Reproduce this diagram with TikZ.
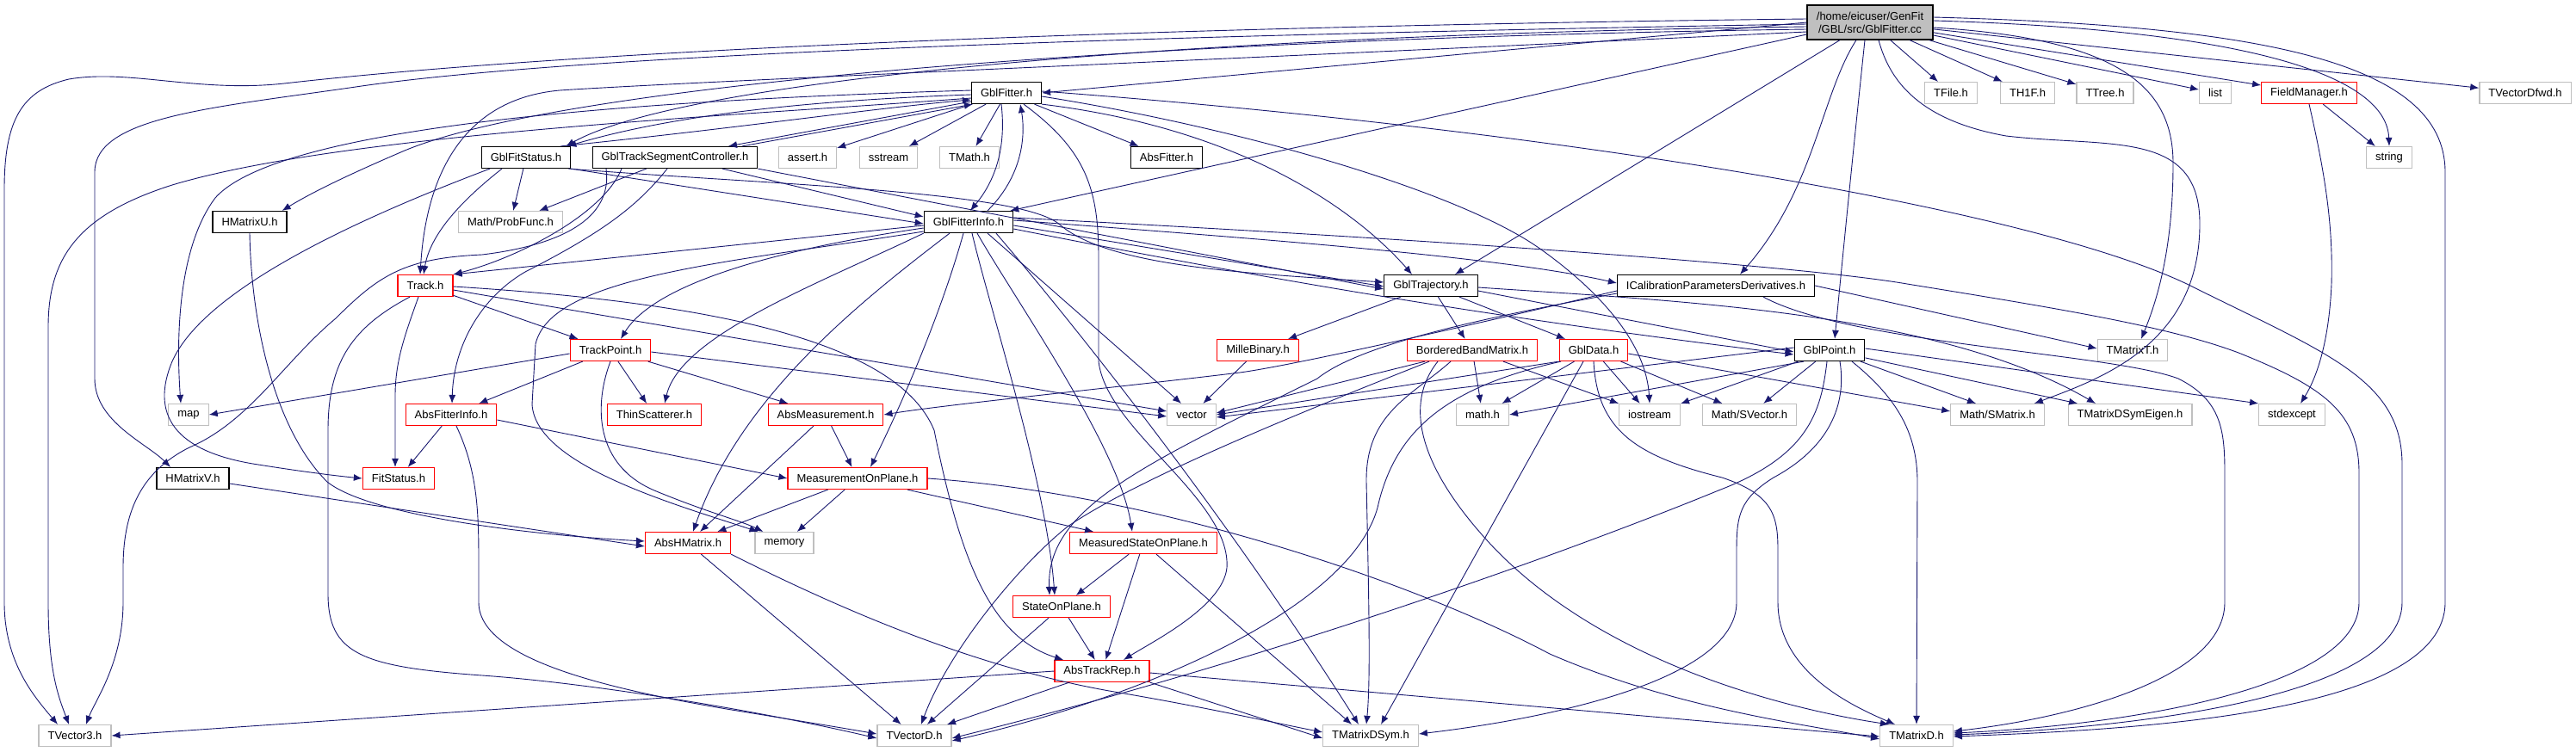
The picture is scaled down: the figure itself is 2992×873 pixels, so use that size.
\documentclass[tikz,border=0pt]{standalone}
\usepackage{fontspec}
\newfontfamily\dotfont{Liberation Sans}
\usetikzlibrary{arrows.meta}
\definecolor{edgeblue}{HTML}{191970}
\definecolor{sysgray}{HTML}{BFBFBF}
\definecolor{cutred}{HTML}{FF0000}

\begin{document}
\begin{tikzpicture}[x=1pt, y=-1pt,
  hdr/.style={draw, rectangle, line width=1.2pt, minimum height=25pt,
    inner xsep=10.5pt, inner ysep=0pt, font=\dotfont\fontsize{13}{15}\selectfont},
  docbox/.style={hdr, draw=black},
  sysbox/.style={hdr, draw=sysgray},
  cutbox/.style={hdr, draw=cutred},
  dep/.style={draw=edgeblue, line width=0.9pt, -{Latex[length=10pt,width=8pt]}}
]
\useasboundingbox (0,0) rectangle (2992,873);
\fill[white] (0,0) rectangle (2992,873);

% nodes, one row per rank
\node[docbox, fill=sysgray, align=center, minimum width=146pt, minimum height=40pt] (root) at (2172,26) {/home/eicuser/GenFit\\/GBL/src/GblFitter.cc};

\node[docbox] (GblFitterH) at (1169,108) {GblFitter.h};
\node[sysbox] (TFile) at (2266,108) {TFile.h};
\node[sysbox] (TH1F) at (2355,108) {TH1F.h};
\node[sysbox] (TTree) at (2445,108) {TTree.h};
\node[sysbox] (list) at (2573,108) {list};
\node[cutbox] (FieldManager) at (2682,108) {FieldManager.h};
\node[sysbox] (TVectorDfwd) at (2933,108) {TVectorDfwd.h};

\node[docbox] (GblFitStatus) at (611,183) {GblFitStatus.h};
\node[docbox] (GblTSC) at (784,183) {GblTrackSegmentController.h};
\node[sysbox] (assert) at (938,183) {assert.h};
\node[sysbox] (sstream) at (1032,183) {sstream};
\node[sysbox] (TMath) at (1126,183) {TMath.h};
\node[docbox] (AbsFitter) at (1355,183) {AbsFitter.h};
\node[sysbox] (string) at (2775,183) {string};

\node[docbox] (HMatrixU) at (290,258) {HMatrixU.h};
\node[sysbox] (ProbFunc) at (593,258) {Math/ProbFunc.h};
\node[docbox] (GblFitterInfo) at (1125,258) {GblFitterInfo.h};

\node[cutbox] (Track) at (494,332) {Track.h};
\node[docbox] (GblTrajectory) at (1662,332) {GblTrajectory.h};
\node[docbox] (ICalib) at (1993,332) {ICalibrationParametersDerivatives.h};

\node[cutbox] (TrackPoint) at (709,407) {TrackPoint.h};
\node[cutbox] (MilleBinary) at (1461,407) {MilleBinary.h};
\node[cutbox] (BBM) at (1710,407) {BorderedBandMatrix.h};
\node[cutbox] (GblData) at (1851,407) {GblData.h};
\node[docbox] (GblPoint) at (2125,407) {GblPoint.h};
\node[sysbox] (TMatrixT) at (2477,407) {TMatrixT.h};

\node[sysbox] (map) at (219,482) {map};
\node[cutbox] (AbsFitterInfo) at (524,482) {AbsFitterInfo.h};
\node[cutbox] (ThinScatterer) at (760,482) {ThinScatterer.h};
\node[cutbox] (AbsMeasurement) at (959,482) {AbsMeasurement.h};
\node[sysbox] (vector) at (1384,482) {vector};
\node[sysbox] (mathh) at (1722,482) {math.h};
\node[sysbox] (iostream) at (1916,482) {iostream};
\node[sysbox] (SVector) at (2032,482) {Math/SVector.h};
\node[sysbox] (SMatrix) at (2320,482) {Math/SMatrix.h};
\node[sysbox] (TMDSEigen) at (2474,482) {TMatrixDSymEigen.h};
\node[sysbox] (stdexcept) at (2662,482) {stdexcept};

\node[docbox] (HMatrixV) at (224,556) {HMatrixV.h};
\node[cutbox] (FitStatus) at (463,556) {FitStatus.h};
\node[cutbox] (MoP) at (996,556) {MeasurementOnPlane.h};

\node[cutbox] (AbsHMatrix) at (799,631) {AbsHMatrix.h};
\node[sysbox] (memory) at (911,631) {memory};
\node[cutbox] (MSoP) at (1328,631) {MeasuredStateOnPlane.h};

\node[cutbox] (SoP) at (1233,705) {StateOnPlane.h};
\node[cutbox] (AbsTrackRep) at (1280,780) {AbsTrackRep.h};

\node[sysbox] (TVector3) at (87,855) {TVector3.h};
\node[sysbox] (TVectorD) at (1062,855) {TVectorD.h};
\node[sysbox] (TMatrixDSym) at (1592,855) {TMatrixDSym.h};
\node[sysbox] (TMatrixD) at (2226,855) {TMatrixD.h};

% includes of GblFitter.cc
\draw[dep] (root.west) -- (GblFitterH.east);
\draw[dep] (root) -- (TFile);
\draw[dep] (root) -- (TH1F);
\draw[dep] (root) -- (TTree);
\draw[dep] (root) -- (list);
\draw[dep] (root) -- (FieldManager);
\draw[dep] (root) -- (TVectorDfwd);
\draw[dep] ([yshift=2pt]root.east) .. controls (2620,35) and (2772,90) .. (string.north);
\draw[dep] ([yshift=-6pt]root.east) .. controls (2460,45) and (2524,100) .. (2524,190) .. controls (2524,290) and (2505,350) .. ([xshift=10pt]TMatrixT.north);
\draw[dep] ([xshift=10pt]root.south) .. controls (2195,95) and (2230,140) .. (2330,158) .. controls (2450,172) and (2555,150) .. (2555,260) .. controls (2555,400) and (2440,440) .. ([xshift=-12pt]SMatrix.north east);
\draw[dep] ([yshift=6pt]root.east) .. controls (2620,30) and (2840,70) .. (2840,200) -- (2840,700) .. controls (2840,830) and (2480,848) .. ([yshift=-1pt]TMatrixD.east);
\draw[dep] ([yshift=4pt]root.west) .. controls (1400,30) and (700,55) .. (330,97) .. controls (230,108) and (150,80) .. (80,92) .. controls (25,105) and (5,140) .. (5,220) -- (5,700) .. controls (5,770) and (40,810) .. ([xshift=-20pt]TVector3.north);
\draw[dep] ([yshift=-2pt]root.west) .. controls (1400,40) and (700,60) .. (420,100) .. controls (250,125) and (110,135) .. (110,200) -- (110,440) .. controls (110,490) and (170,515) .. ([xshift=-26pt]HMatrixV.north);
\draw[dep] ([yshift=-5pt]root.west) .. controls (1400,40) and (800,90) .. ([xshift=-6pt]GblFitStatus.north east);
\draw[dep] ([yshift=-8pt]root.west) .. controls (1300,45) and (650,100) .. (470,175) .. controls (400,205) and (360,225) .. ([xshift=-6pt]HMatrixU.north east);
\draw[dep] ([yshift=-11pt]root.west) .. controls (1400,70) and (800,95) .. (650,105) .. controls (540,115) and (495,200) .. ([xshift=-6pt]Track.north);
\draw[dep] ([yshift=-14pt]root.west) -- ([xshift=-4pt]GblFitterInfo.north east);
\draw[dep] ([xshift=-35pt]root.south) -- ([xshift=28pt]GblTrajectory.north);
\draw[dep] ([xshift=-16pt]root.south) .. controls (2115,110) and (2108,220) .. ([xshift=28pt]ICalib.north);
\draw[dep] ([xshift=-6pt]root.south) .. controls (2155,150) and (2140,300) .. ([xshift=6pt]GblPoint.north);

% GblFitter.h
\draw[dep] ([yshift=-2pt]GblFitterH.west) .. controls (900,118) and (760,140) .. ([xshift=-4pt]GblFitStatus.north east);
\draw[dep] ([xshift=-12pt]GblFitStatus.north east) .. controls (850,150) and (1020,125) .. ([yshift=-8pt]GblFitterH.west);
\draw[dep] ([yshift=-10pt]GblFitterH.west) -- ([xshift=62pt]GblTSC.north);
\draw[dep] ([xshift=78pt]GblTSC.north) -- ([xshift=2pt]GblFitterH.south west);
\draw[dep] (GblFitterH) -- (assert);
\draw[dep] (GblFitterH) -- (sstream);
\draw[dep] (GblFitterH) -- (TMath);
\draw[dep] (GblFitterH) -- (AbsFitter);
\draw[dep] ([xshift=-6pt]GblFitterH.south) .. controls (1168,165) and (1160,205) .. ([xshift=2pt]GblFitterInfo.north);
\draw[dep] ([xshift=22pt]GblFitterInfo.north) .. controls (1192,200) and (1190,150) .. ([xshift=16pt]GblFitterH.south);
\draw[dep] (GblFitterH.south east) .. controls (1450,150) and (1580,250) .. ([xshift=-22pt]GblTrajectory.north);
\draw[dep] ([yshift=-4pt]GblFitterH.east) .. controls (1450,150) and (1700,225) .. (1790,290) .. controls (1860,340) and (1912,400) .. (iostream.north);
\draw[dep] ([yshift=3pt]GblFitterH.west) .. controls (800,115) and (330,140) .. (250,230) .. controls (205,290) and (205,400) .. ([xshift=-9pt]map.north);
\draw[dep] ([yshift=-6pt]GblFitterH.west) .. controls (850,135) and (400,155) .. (200,215) .. controls (90,250) and (56,300) .. (56,380) -- (56,700) .. controls (56,780) and (68,810) .. ([xshift=-7pt]TVector3.north);
\draw[dep] ([yshift=2pt]GblFitterH.east) .. controls (1800,150) and (2350,240) .. (2540,330) .. controls (2700,410) and (2790,440) .. (2790,540) -- (2790,700) .. controls (2790,810) and (2480,846) .. ([yshift=1pt]TMatrixD.east);
\draw[dep] ([xshift=20pt]GblFitterH.south) .. controls (1262,175) and (1276,220) .. (1276,300) -- (1276,420) .. controls (1285,500) and (1430,580) .. (1425,660) .. controls (1420,705) and (1340,745) .. ([xshift=25pt]AbsTrackRep.north);

% GblFitStatus.h
\draw[dep] (GblFitStatus) -- (ProbFunc);
\draw[dep] ([xshift=-28pt]GblFitStatus.south) .. controls (540,230) and (500,270) .. ([xshift=-2pt]Track.north);
\draw[dep] (GblFitStatus.south east) -- ([yshift=-2pt]GblFitterInfo.west);
\draw[dep] ([xshift=-3pt]GblFitStatus.south east) .. controls (900,215) and (1190,222) .. (1232,262) .. controls (1290,310) and (1450,318) .. ([yshift=4pt]GblTrajectory.west);
\draw[dep] ([xshift=-42pt]GblFitStatus.south) .. controls (440,245) and (240,330) .. (200,420) .. controls (175,480) and (200,525) .. (300,540) .. controls (350,548) and (390,553) .. (FitStatus.west);

% GblTrackSegmentController.h
\draw[dep] (GblTSC) -- (ProbFunc);
\draw[dep] ([xshift=55pt]GblTSC.south) -- ([yshift=6pt]GblFitterInfo.west);
\draw[dep] (GblTSC.south east) -- ([yshift=-4pt]GblTrajectory.west);
\draw[dep] ([xshift=-62pt]GblTSC.south) .. controls (700,250) and (600,300) .. (Track.north east);
\draw[dep] ([xshift=-9pt]GblTSC.south) .. controls (740,240) and (700,270) .. (610,316) .. controls (560,345) and (527,400) .. ([xshift=1pt]AbsFitterInfo.north);
\draw[dep] ([xshift=-80pt]GblTSC.south) .. controls (712,255) and (650,285) .. (560,296) .. controls (470,300) and (440,320) .. (390,370) .. controls (330,420) and (290,490) .. (220,520) .. controls (160,550) and (143,600) .. (143,660) -- (143,700) .. controls (143,770) and (110,815) .. ([xshift=13pt]TVector3.north);

% GblFitterInfo.h
\draw[dep] ([yshift=-4pt]GblFitterInfo.west) -- (Track.north east);
\draw[dep] ([yshift=-7pt]GblFitterInfo.west) .. controls (900,290) and (760,330) .. ([xshift=12pt]TrackPoint.north);
\draw[dep] (GblFitterInfo.south west) .. controls (950,330) and (790,390) .. ([xshift=12pt]ThinScatterer.north);
\draw[dep] ([yshift=-11pt]GblFitterInfo.west) .. controls (850,305) and (640,320) .. (622,400) -- (618,470) .. controls (622,540) and (780,585) .. ([xshift=4pt]memory.north west);
\draw[dep] ([xshift=22pt]GblFitterInfo.south) -- ([xshift=-12pt]vector.north);
\draw[dep] ([xshift=-6pt]GblFitterInfo.south) .. controls (1100,340) and (1062,440) .. ([xshift=15pt]MoP.north);
\draw[dep] ([xshift=-22pt]GblFitterInfo.south) .. controls (1000,350) and (860,460) .. ([xshift=6pt]AbsHMatrix.north);
\draw[dep] ([xshift=10pt]GblFitterInfo.south) .. controls (1180,350) and (1300,520) .. ([xshift=-13pt]MSoP.north);
\draw[dep] ([xshift=4pt]GblFitterInfo.south) .. controls (1150,360) and (1215,560) .. ([xshift=-8pt]SoP.north);
\draw[dep] ([xshift=32pt]GblFitterInfo.south) .. controls (1250,380) and (1425,600) .. ([xshift=-14pt]TMatrixDSym.north);
\draw[dep] ([yshift=-4pt]GblFitterInfo.east) -- ([yshift=-1pt]GblTrajectory.west);
\draw[dep] ([yshift=2pt]GblFitterInfo.east) .. controls (1500,280) and (1750,300) .. ([yshift=3pt]ICalib.west);
\draw[dep] ([yshift=-8pt]GblFitterInfo.east) .. controls (1450,320) and (1700,365) .. ([yshift=-5pt]GblPoint.west);
\draw[dep] ([yshift=5pt]GblFitterInfo.east) .. controls (1700,280) and (2100,310) .. (2215,330) .. controls (2400,360) and (2520,380) .. (2600,410) .. controls (2700,450) and (2740,480) .. (2740,550) -- (2740,700) .. controls (2740,800) and (2470,843) .. ([yshift=3pt]TMatrixD.east);

% FieldManager.h
\draw[dep] (FieldManager) -- (string);
\draw[dep] (FieldManager.south) .. controls (2700,200) and (2710,260) .. (2708,330) .. controls (2705,400) and (2690,440) .. ([xshift=10pt]stdexcept.north);

% Track.h and TrackPoint.h
\draw[dep] (Track) -- (TrackPoint);
\draw[dep] ([xshift=-8pt]Track.south) .. controls (470,390) and (459,420) .. (459,460) -- ([xshift=-4pt]FitStatus.north);
\draw[dep] ([yshift=-5pt]Track.east) -- ([yshift=4pt]vector.west);
\draw[dep] ([yshift=-1pt]Track.east) .. controls (800,350) and (1040,390) .. (1085,500) .. controls (1115,650) and (1150,740) .. ([xshift=-45pt]AbsTrackRep.north);
\draw[dep] ([xshift=-18pt]Track.south) .. controls (410,380) and (381,420) .. (381,500) -- (381,690) .. controls (381,760) and (420,775) .. (560,785) .. controls (700,795) and (900,830) .. ([yshift=-3pt]TVectorD.west);
\draw[dep] ([yshift=-4pt]TrackPoint.west) -- (map.east);
\draw[dep] (TrackPoint) -- (AbsFitterInfo);
\draw[dep] (TrackPoint) -- (ThinScatterer);
\draw[dep] (TrackPoint) -- (AbsMeasurement);
\draw[dep] ([yshift=-2pt]TrackPoint.east) -- ([yshift=-2pt]vector.west);
\draw[dep] (TrackPoint.south) .. controls (690,470) and (690,540) .. (760,570) .. controls (820,595) and (860,605) .. ([xshift=10pt]memory.north west);

% AbsFitterInfo.h, AbsMeasurement.h, ICalibrationParametersDerivatives.h
\draw[dep] (AbsFitterInfo) -- (FitStatus);
\draw[dep] ([yshift=-6pt]AbsFitterInfo.east) -- (MoP.west);
\draw[dep] ([xshift=6pt]AbsFitterInfo.south) .. controls (556,550) and (556,600) .. (556,660) -- (556,700) .. controls (556,765) and (700,800) .. (850,825) .. controls (930,838) and (990,848) .. ([yshift=2pt]TVectorD.west);
\draw[dep] (AbsMeasurement) -- (MoP);
\draw[dep] (AbsMeasurement) -- (AbsHMatrix);
\draw[dep] ([yshift=-6pt]ICalib.west) .. controls (1700,380) and (1500,425) .. (1440,433) .. controls (1300,450) and (1100,470) .. (AbsMeasurement.east);
\draw[dep] ([yshift=-9pt]ICalib.west) .. controls (1720,370) and (1580,400) .. (1530,440) .. controls (1330,540) and (1215,590) .. ([xshift=-14pt]SoP.north);
\draw[dep] (ICalib.east) -- ([yshift=2pt]TMatrixT.west);
\draw[dep] ([xshift=55pt]ICalib.south) .. controls (2150,400) and (2450,410) .. (2530,440) .. controls (2580,465) and (2584,500) .. (2584,550) -- (2584,700) .. controls (2584,790) and (2400,835) .. ([yshift=5pt]TMatrixD.east);

% GblTrajectory.h
\draw[dep] (GblTrajectory) -- (MilleBinary);
\draw[dep] (GblTrajectory) -- (BBM);
\draw[dep] (GblTrajectory) -- (GblData);
\draw[dep] ([yshift=-6pt]GblTrajectory.east) -- ([yshift=-2pt]GblPoint.west);
\draw[dep] ([yshift=-2pt]GblTrajectory.east) .. controls (1950,350) and (2250,362) .. ([xshift=-40pt]TMDSEigen.north);
\draw[dep] (MilleBinary) -- (vector);

% BorderedBandMatrix.h
\draw[dep] ([xshift=-55pt]BBM.south) -- ([yshift=2pt]vector.east);
\draw[dep] (BBM) -- (mathh);
\draw[dep] (BBM) -- (iostream);
\draw[dep] ([xshift=-50pt]BBM.south) .. controls (1560,460) and (1330,550) .. (1240,612) .. controls (1180,660) and (1100,760) .. ([xshift=8pt]TVectorD.north);
\draw[dep] ([xshift=-25pt]BBM.south) .. controls (1640,460) and (1586,480) .. (1587,560) .. controls (1590,700) and (1592,790) .. ([xshift=-5pt]TMatrixDSym.north);
\draw[dep] ([xshift=-40pt]BBM.south) .. controls (1630,470) and (1650,540) .. (1720,620) .. controls (1850,770) and (2080,825) .. ([xshift=-32pt]TMatrixD.north);

% GblData.h
\draw[dep] (GblData.south west) -- (vector.east);
\draw[dep] (GblData) -- (mathh);
\draw[dep] (GblData) -- (iostream);
\draw[dep] (GblData) -- (SVector);
\draw[dep] ([yshift=-4pt]GblData.east) -- ([yshift=4pt]SMatrix.west);
\draw[dep] ([xshift=-12pt]GblData.south) -- ([xshift=12pt]TMatrixDSym.north);
\draw[dep] ([xshift=-38pt]GblData.south) .. controls (1680,450) and (1620,500) .. (1600,590) .. controls (1570,700) and (1350,805) .. ([yshift=-6pt]TVectorD.east);
\draw[dep] (GblData.south) .. controls (1855,500) and (1900,530) .. (2000,555) .. controls (2060,575) and (2065,600) .. (2065,640) -- (2065,700) .. controls (2065,780) and (2150,820) .. ([xshift=-25pt]TMatrixD.north);

% GblPoint.h
\draw[dep] ([yshift=3pt]GblPoint.west) -- ([yshift=-3pt]vector.east);
\draw[dep] ([xshift=-30pt]GblPoint.south) -- (mathh.east);
\draw[dep] (GblPoint) -- (iostream);
\draw[dep] (GblPoint) -- (SVector);
\draw[dep] (GblPoint) -- ([xshift=-25pt]SMatrix.north);
\draw[dep] (GblPoint) -- (TMDSEigen);
\draw[dep] ([yshift=2pt]GblPoint.east) -- (stdexcept.north west);
\draw[dep] ([xshift=-3pt]GblPoint.south) .. controls (2115,480) and (2100,530) .. (1996,570) .. controls (1850,630) and (1500,760) .. ([yshift=-3pt]TVectorD.east);
\draw[dep] ([xshift=12pt]GblPoint.south) .. controls (2145,470) and (2125,520) .. (2060,555) .. controls (2020,580) and (2017,600) .. (2017,640) -- (2017,700) .. controls (2017,790) and (1800,835) .. ([yshift=2pt]TMatrixDSym.east);
\draw[dep] ([xshift=26pt]GblPoint.south) .. controls (2200,460) and (2227,500) .. (2227,560) -- (TMatrixD.north);

% HMatrixU.h, HMatrixV.h, MeasurementOnPlane.h
\draw[dep] (HMatrixU.south) .. controls (292,380) and (320,500) .. (380,560) .. controls (430,600) and (620,622) .. ([yshift=2pt]AbsHMatrix.west);
\draw[dep] ([yshift=-6pt]HMatrixV.east) -- ([yshift=-4pt]AbsHMatrix.west);
\draw[dep] (MoP) -- (AbsHMatrix);
\draw[dep] (MoP) -- (memory);
\draw[dep] (MoP) -- (MSoP);
\draw[dep] (MoP.east) .. controls (1350,575) and (1650,680) .. (1800,760) .. controls (1950,825) and (2100,842) .. ([yshift=-4pt]TMatrixD.west);

% lower headers
\draw[dep] (AbsHMatrix) -- (TVectorD);
\draw[dep] (AbsHMatrix.south east) .. controls (1000,720) and (1150,780) .. (1300,805) .. controls (1400,822) and (1480,840) .. ([yshift=4pt]TMatrixDSym.west);
\draw[dep] (MSoP) -- (SoP);
\draw[dep] (MSoP) -- (AbsTrackRep);
\draw[dep] (MSoP) -- ([xshift=-22pt]TMatrixDSym.north);
\draw[dep] (SoP) -- (AbsTrackRep);
\draw[dep] (SoP) -- (TVectorD);
\draw[dep] (AbsTrackRep.west) -- (TVector3.east);
\draw[dep] (AbsTrackRep) -- (TVectorD);
\draw[dep] (AbsTrackRep.south east) -- ([yshift=-3pt]TMatrixDSym.west);
\draw[dep] ([yshift=-2pt]AbsTrackRep.east) -- ([yshift=-1pt]TMatrixD.west);
\end{tikzpicture}
\end{document}
